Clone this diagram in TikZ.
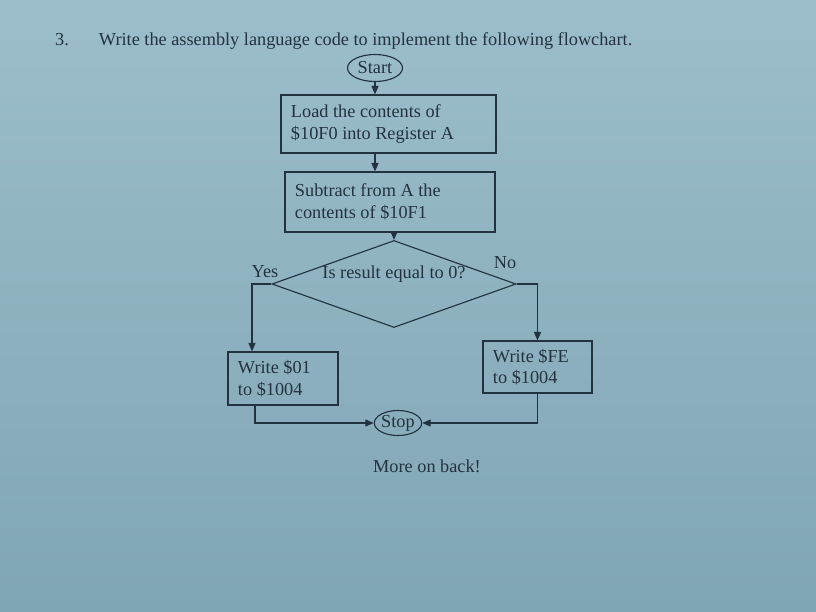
\documentclass[tikz,border=0pt]{standalone}
\usepackage{fontspec}
\setmainfont{Liberation Serif}
\usetikzlibrary{arrows.meta,shapes.geometric}
\definecolor{paper}{RGB}{156,190,204}
\definecolor{paperdark}{RGB}{128,165,181}
\definecolor{ink}{RGB}{35,50,64}

\begin{document}
\begin{tikzpicture}[
  x=0.025cm, y=-0.025cm,
  line width=0.8pt, color=ink,
  font=\fontsize{13}{15.5}\selectfont,
  box/.style={rectangle,draw,align=left,inner xsep=0.25cm,inner ysep=0pt,
    execute at begin node={\spaceskip=0pt\xspaceskip=0pt}},
  term/.style={ellipse,draw,inner sep=0pt},
  decision/.style={diamond,draw,inner sep=0pt},
  flow/.style={-{Triangle[length=6pt,width=5pt]}}
]
  \shade[top color=paper,bottom color=paperdark] (0,0) rectangle (816,612);
  \node[anchor=base west] (title) at (50,45) {3.\hspace{0.75cm}Write the assembly language code to implement the following flowchart.};
  \node[term,minimum width=1.375cm,minimum height=0.675cm] (start) at (375,68) {Start};
  \node[box,text width=4.875cm,minimum height=1.45cm] (load) at (388.5,124) {Load the contents of\\\$10F0 into Register A};
  \node[box,text width=4.75cm,minimum height=1.5cm] (sub) at (390,202) {Subtract from A the\\contents of \$10F1};
  \node[decision,minimum width=6.1cm,minimum height=2.175cm,label={[yshift=0.25cm]center:Is result equal to 0?}] (dec) at (394,284) {};
  \node[box,text width=2.25cm,minimum height=1.325cm] (w01) at (283,378.5) {Write \$01\\to \$1004};
  \node[box,text width=2.225cm,minimum height=1.3cm] (wfe) at (537.5,367) {Write \$FE\\to \$1004};
  \node[term,minimum width=1.175cm,minimum height=0.625cm] (stop) at (398,423) {Stop};
  \node (yes) at (265,272) {Yes};
  \node (no) at (505,263) {No};
  \node (more) at (427,466) {More on back!};
  \draw[flow] (start) -- (start |- load.north);
  \draw[flow] (load.south -| start) -- (start |- sub.north);
  \draw[flow] (sub.south -| dec.north) -- (dec);
  \draw[flow] (dec.west) -| ([xshift=-0.775cm]w01.north);
  \draw[flow] (dec.east) -| (wfe.north);
  \draw[flow] ([xshift=-0.7cm]w01.south) |- (stop.west);
  \draw[flow] (wfe.south) |- (stop.east);
\end{tikzpicture}
\end{document}
